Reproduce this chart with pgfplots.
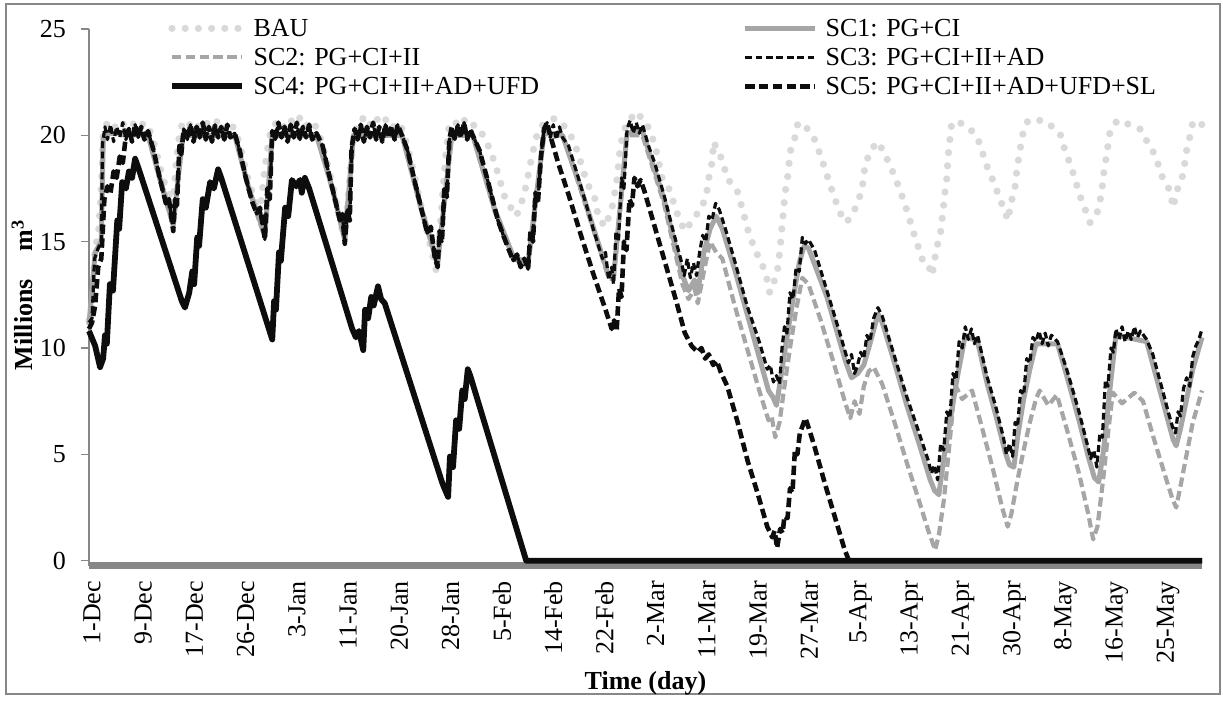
\documentclass[border=0pt]{standalone}
\usepackage{fontspec}
\setmainfont{Liberation Serif}
\usepackage{pgfplots}
\pgfplotsset{compat=1.18}
\definecolor{bau}{HTML}{D9D9D9}
\definecolor{scgray}{HTML}{A6A6A6}
\definecolor{axgray}{HTML}{878787}
\definecolor{ink}{HTML}{0D0D0D}
\newcommand{\fs}{\fontsize{13}{15.6}\selectfont}
\newcommand{\colA}[1]{\makebox[244.5pt][l]{#1}}

\begin{document}
\begin{tikzpicture}[x=1pt,y=1pt,font=\fs]
\path (0,0) rectangle (611.5,349);
\draw[axgray, line width=0.75pt] (3,2) rectangle (610,347);
\begin{axis}[
  set layers,
  at={(44.5pt,66pt)}, anchor=south west,
  scale only axis, width=556.5pt, height=268.5pt,
  xmin=0, xmax=181, ymin=-0.25, ymax=25,
  clip=false, no markers,
  axis x line*=bottom, axis y line*=left,
  x axis line style={-, axgray, line width=3.5pt},
  y axis line style={-, axgray, line width=0.75pt},
  ytick={0,5,10,15,20,25},
  xtick={0,8.33333,16.66667,25,33.33333,41.66667,50,58.33333,66.66667,75,83.33333,91.66667,100,108.33333,116.66667,125,133.33333,141.66667,150,158.33333,166.66667,175},
  xticklabels={1-Dec,9-Dec,17-Dec,26-Dec,3-Jan,11-Jan,20-Jan,28-Jan,5-Feb,14-Feb,22-Feb,2-Mar,11-Mar,19-Mar,27-Mar,5-Apr,13-Apr,21-Apr,30-Apr,8-May,16-May,25-May},
  xtick style={draw=none},
  ytick style={axgray, line width=0.75pt},
  tick align=outside, major tick length=4pt,
  /pgf/number format/assume math mode=true,
  tick label style={font=\fs},
  xticklabel style={rotate=90, anchor=east, yshift=-1.5pt},
  yticklabel style={xshift=-4pt},
  xlabel={\bfseries Time (day)},
  ylabel={\bfseries Millions\hspace{14pt}m\textsuperscript{3}},
  xlabel style={at={(axis description cs:0.5,-0.218)}, anchor=center, font=\fs},
  ylabel style={at={(axis description cs:-0.0602,0.505)}, anchor=center, font=\fs},
  legend columns=2,
  legend cell align=left,
  legend style={at={(axis description cs:0.07098,1.0242)}, anchor=north west,
    draw=none, fill=none, inner sep=0pt, row sep=2.5pt, column sep=0pt, font=\fs,
    nodes={inner sep=0pt, text height=10pt, text depth=2pt}},
  legend image code/.code={\draw[#1] (0pt,0pt) -- (35pt,0pt); \path (39pt,0pt);},
  every axis plot/.append style={line join=round},
]
% BAU
\addplot[bau, line width=3.6pt, line cap=round, dash pattern=on 0pt off 6.6pt] coordinates {
(0,11.3)(0.5,12.0)(1.0,14.8)(1.5,15.2)(2.0,17.5)(2.3,20.2)(3.0,20.6)(4.0,20.3)(5.0,20.7)(6.0,20.4)(7.0,20.6)(8.0,20.3)(9.0,20.6)(9.8,20.3)
(10.5,19.7)(11.3,18.8)(12.0,18.0)(12.7,17.4)(13.4,17.0)(13.8,17.3)(14.2,18.8)(14.7,20.0)(15.2,20.6)(16.0,20.4)(17.0,20.7)(18.0,20.3)(19.0,20.6)
(20.0,20.4)(21.0,20.7)(22.0,20.3)(23.0,20.6)(23.8,20.2)(24.5,19.6)(25.3,18.6)(26.0,17.8)(26.8,17.1)(27.5,16.6)(28.0,16.9)(28.5,18.2)(29.0,19.3)
(29.6,20.3)(30.5,20.6)(31.5,20.3)(32.5,20.8)(33.5,20.5)(34.5,20.9)(35.5,20.4)(36.5,20.6)(37.3,20.2)(38.0,19.5)(39.0,18.4)(40.0,17.2)(40.8,16.0)
(41.5,15.2)(42.0,16.6)(42.5,18.4)(43.0,19.8)(43.6,20.5)(44.5,20.8)(45.5,20.4)(46.5,20.9)(47.5,20.5)(48.5,20.8)(49.5,20.4)(50.5,20.6)(51.3,20.0)
(52.3,18.9)(53.3,17.6)(54.3,16.3)(55.3,15.1)(56.0,14.2)(56.5,13.6)(57.0,15.2)(57.5,17.2)(58.0,19.0)(58.5,20.3)(59.3,20.7)(60.3,20.4)(61.3,20.8)
(62.3,20.5)(63.3,20.4)(64.8,19.6)(66.0,18.7)(67.6,17.1)(68.8,16.5)(69.5,16.2)(70.3,16.8)(70.9,17.4)(71.4,18.1)(72.0,19.0)(72.5,19.6)(73.0,20.2)
(74.1,20.6)(75.8,20.8)(77.4,20.4)(78.5,19.9)(79.5,19.2)(80.3,18.4)(81.1,17.7)(82.3,17.0)(82.8,16.2)(83.9,15.7)(85.0,16.5)(85.5,17.3)(85.9,18.0)
(86.3,19.2)(86.7,19.9)(87.6,20.7)(88.5,20.9)(89.3,21.1)(90.1,20.6)(90.9,20.4)(92.0,19.6)(93.2,18.0)(94.5,17.4)(95.3,16.6)(96.1,16.0)(96.9,15.5)
(97.4,15.7)(98.6,16.2)(99.7,16.6)(100.5,17.4)(100.8,18.0)(101.3,18.7)(101.6,19.7)(102.3,19.2)(103.1,18.8)(103.7,18.0)(105.4,17.4)(106.2,16.6)
(107.2,15.5)(108.3,14.6)(109.4,14.0)(110.2,13.3)(110.7,12.6)(111.9,13.5)(112.4,14.7)(112.7,15.7)(113.2,17.3)(113.7,18.2)(114.0,19.2)(114.8,19.9)
(115.3,20.6)(116.9,20.3)(118.0,19.8)(118.9,19.1)(119.7,18.4)(120.5,17.7)(121.3,17.0)(122.4,16.2)(123.2,15.9)(124.5,16.5)(125.7,17.4)(126.2,18.6)
(127.0,19.2)(128.1,19.7)(129.4,19.2)(129.9,18.8)(131.0,18.1)(131.9,17.4)(132.4,17.0)(133.2,16.3)(134.0,15.5)(134.8,14.8)(135.6,14.1)(136.4,14.0)
(137.1,13.4)(137.9,14.8)(138.4,15.2)(138.9,16.5)(139.2,17.3)(139.5,18.0)(139.7,19.0)(140.3,20.6)(141.6,20.6)(143.3,20.3)(144.6,19.8)(146.2,18.4)
(147.3,17.7)(148.1,17.0)(148.9,16.5)(149.4,16.0)(150.1,17.0)(150.6,17.6)(150.9,18.4)(151.4,19.3)(151.9,20.1)(152.7,20.7)(155.1,20.7)(156.7,20.4)
(157.9,20.1)(158.7,19.3)(159.5,18.7)(160.3,18.0)(161.1,17.2)(161.9,16.6)(162.8,15.9)(163.9,16.3)(164.7,17.3)(164.9,18.0)(165.5,19.1)(166.0,20.1)
(167.2,20.7)(169.3,20.5)(170.9,20.3)(171.7,19.9)(172.5,19.5)(173.3,19.1)(173.8,18.7)(174.6,18.0)(175.8,17.4)(176.3,16.6)(176.9,17.4)(177.7,17.9)
(178.2,18.7)(178.5,19.3)(179.0,19.9)(179.5,20.6)(180.2,20.7)(181.0,20.5)
};
\addlegendentry{\colA{BAU}}
% SC1
\addplot[scgray, line width=2.5pt] coordinates {
(0,11.1)(1.0,14.5)(2.0,15.0)(2.3,19.8)(3.0,20.1)(6.0,20.1)(9.6,20.0)(11.5,18.0)(13.7,15.8)(14.5,18.0)(15.3,20.0)(23.7,20.0)(26.0,17.5)(28.6,15.3)
(29.8,20.0)(37.0,20.0)(39.5,17.6)(41.6,15.1)(43.0,20.0)(50.9,20.0)(54.0,16.6)(56.7,14.0)(59.0,20.0)(62.4,20.0)(66.0,16.5)(69.0,14.3)(71.4,14.0)
(74.0,20.1)(77.0,20.0)(80.0,17.5)(84.5,13.4)(85.3,13.3)(87.5,20.1)(90.0,20.2)(93.5,17.0)(96.5,13.4)(97.5,12.7)(98.5,13.2)(99.0,12.6)(100.0,14.5)
(101.0,15.6)(102.0,16.2)(103.0,15.6)(105.0,13.7)(108.0,10.6)(110.5,8.0)(111.2,7.7)(111.8,7.3)(112.5,8.6)(113.5,10.5)(114.5,12.3)(115.5,14.0)
(116.3,14.8)(117.0,14.7)(120.0,12.4)(123.0,9.4)(124.0,8.6)(125.0,8.8)(126.0,9.2)(127.0,10.2)(128.3,11.6)(129.0,11.2)(131.0,9.3)(133.0,7.3)
(135.0,5.5)(136.8,3.8)(137.5,3.3)(138.2,3.1)(139.0,4.8)(140.0,6.5)(141.0,8.3)(142.5,10.6)(144.5,10.3)(146.0,8.4)(147.5,6.8)(149.0,5.1)(149.7,4.5)
(150.4,4.4)(151.0,5.8)(152.0,7.6)(153.0,9.0)(154.0,10.2)(157.5,10.2)(159.0,8.7)(161.0,6.6)(162.5,4.9)(163.5,3.9)(164.2,3.7)(165.0,5.2)(166.0,8.0)
(167.0,10.6)(172.0,10.3)(173.5,8.7)(175.0,7.1)(176.3,5.7)(176.8,5.4)(177.5,6.2)(178.5,7.6)(179.5,9.0)(181.0,10.5)
};
\addlegendentry{SC1: PG+CI}
% SC2
\addplot[scgray, line width=2.1pt, dash pattern=on 4.7pt off 2.2pt] coordinates {
(0,11.1)(1.0,14.5)(2.0,15.0)(2.3,19.8)(3.0,20.1)(6.0,20.0)(9.6,20.0)(11.5,17.9)(13.7,15.7)(14.5,17.9)(15.3,20.0)(23.7,20.0)(26.0,17.4)(28.6,15.2)
(29.8,20.0)(37.0,20.0)(39.5,17.5)(41.6,15.0)(43.0,20.0)(50.9,20.0)(54.0,16.5)(56.7,13.9)(59.0,20.0)(62.4,20.0)(66.0,16.4)(69.0,14.2)(71.4,13.9)
(74.0,20.0)(77.0,20.0)(80.0,17.4)(84.5,13.3)(85.3,13.2)(87.5,20.0)(90.0,20.0)(93.5,16.8)(96.5,13.0)(97.5,12.3)(98.5,12.8)(99.0,12.1)(100.0,13.6)
(101.0,15.0)(102.0,14.5)(103.0,14.2)(105.0,12.0)(107.0,10.0)(109.0,8.0)(110.5,6.6)(111.0,6.8)(111.6,5.8)(112.3,6.5)(113.0,8.0)(114.0,10.0)
(115.0,11.8)(116.0,13.3)(117.0,13.0)(119.0,11.3)(121.0,9.4)(123.0,7.4)(123.8,6.7)(124.5,7.5)(125.3,6.9)(126.0,8.2)(126.8,8.9)(127.6,9.1)
(129.0,8.3)(131.0,6.5)(133.0,4.6)(135.0,2.8)(136.5,1.4)(137.0,1.0)(137.6,0.5)(138.2,1.2)(139.0,2.8)(139.7,4.8)(140.3,6.6)(140.8,8.3)(142.0,7.6)
(143.6,8.0)(145.0,6.5)(147.0,4.3)(148.5,2.5)(149.4,1.6)(150.0,2.2)(151.0,3.8)(152.0,5.2)(153.0,6.5)(154.0,7.6)(154.6,8.0)(156.0,7.3)(157.4,7.8)
(159.0,6.2)(161.0,4.1)(162.5,2.2)(163.3,1.0)(164.0,1.6)(165.0,4.0)(165.8,6.2)(166.5,7.9)(168.0,7.4)(170.0,7.9)(171.4,7.5)(173.0,5.9)(175.0,4.0)
(176.2,2.9)(176.8,2.5)(177.5,3.5)(178.5,5.0)(179.5,6.5)(180.5,7.5)(181.0,8.0)
};
\addlegendentry{\colA{SC2: PG+CI+II}}
% SC3
\addplot[ink, line width=1.6pt, dash pattern=on 3.4pt off 1.8pt] coordinates {
(0,11.2)(0.5,11.4)(0.9,14.2)(1.5,14.7)(2.0,15.0)(2.2,19.6)(2.6,20.4)(3.0,19.8)(3.5,20.5)(4.0,19.7)(4.5,20.4)(5.0,19.9)(5.5,20.6)(6.0,19.8)
(6.5,20.3)(7.0,19.7)(7.5,20.5)(8.0,19.9)(8.5,20.4)(9.0,19.8)(9.6,20.2)(10.5,19.3)(11.5,18.0)(12.5,16.8)(13.0,17.0)(13.7,15.5)(14.0,17.0)
(14.3,16.7)(14.7,19.5)(15.0,19.1)(15.4,20.3)(16.0,19.8)(16.5,20.5)(17.0,19.7)(17.5,20.4)(18.0,19.9)(18.5,20.6)(19.0,19.8)(19.5,20.4)(20.0,19.7)
(20.5,20.5)(21.0,19.9)(21.5,20.4)(22.0,19.8)(22.5,20.5)(23.0,19.9)(23.7,20.1)(24.5,19.3)(25.5,18.0)(26.5,16.9)(27.3,16.3)(27.8,16.6)(28.6,15.1)
(29.0,17.5)(29.4,17.0)(29.8,20.2)(30.3,19.8)(30.8,20.6)(31.3,19.9)(31.8,20.4)(32.3,19.7)(32.8,20.5)(33.3,19.9)(33.8,20.6)(34.3,19.8)(34.8,20.4)
(35.3,19.9)(35.8,20.5)(36.3,19.8)(37.0,20.1)(38.0,19.5)(39.0,18.2)(40.0,17.0)(40.8,16.0)(41.2,16.3)(41.6,14.9)(42.0,16.5)(42.4,16.0)(42.7,19.4)
(43.2,20.3)(43.7,19.8)(44.2,20.5)(44.7,19.7)(45.2,20.4)(45.7,19.9)(46.2,20.6)(46.7,19.8)(47.2,20.4)(47.7,19.7)(48.2,20.5)(48.7,19.9)(49.2,20.4)
(49.7,19.8)(50.2,20.5)(50.9,20.0)(51.8,19.3)(53.0,17.8)(54.0,16.6)(55.0,15.4)(55.6,15.7)(56.2,14.3)(56.7,13.8)(57.0,15.5)(57.4,15.0)(57.8,17.6)
(58.2,17.1)(58.6,19.8)(59.0,20.4)(59.5,19.8)(60.0,20.5)(60.5,19.9)(61.0,20.6)(61.5,19.8)(62.0,20.3)(62.4,20.0)(63.5,19.3)(65.0,17.7)(66.5,16.0)
(67.5,15.2)(68.3,14.6)(69.0,14.1)(69.6,14.4)(70.2,13.8)(70.8,14.2)(71.4,13.7)(71.8,15.5)(72.2,15.0)(72.6,17.3)(73.0,16.8)(73.5,19.0)(74.0,20.3)
(74.5,20.6)(75.0,19.9)(75.5,20.5)(76.0,19.8)(76.5,20.4)(77.0,19.9)(78.0,19.5)(80.0,17.6)(82.0,15.6)(83.5,14.2)(84.0,14.5)(84.5,13.2)(85.0,13.8)
(85.3,13.0)(85.7,15.5)(86.1,15.0)(86.6,18.0)(87.0,17.5)(87.5,20.3)(88.0,20.7)(88.5,20.1)(89.0,20.6)(89.5,20.1)(90.0,20.5)(91.0,19.5)(92.0,18.7)
(93.5,17.2)(95.0,15.5)(96.3,14.1)(96.8,13.4)(97.3,14.2)(97.8,13.3)(98.3,14.0)(98.8,13.4)(99.3,14.5)(99.8,15.3)(100.3,15.0)(100.8,16.2)(101.3,16.0)
(101.9,16.8)(102.5,16.5)(103.5,15.6)(105.0,14.1)(107.0,12.0)(109.0,10.3)(110.3,9.0)(110.8,9.2)(111.3,8.4)(111.8,8.7)(112.3,8.3)(112.7,10.0)
(113.1,11.0)(113.5,10.7)(114.0,12.6)(114.5,12.3)(115.0,13.8)(115.5,13.6)(116.0,15.2)(116.5,14.9)(117.0,15.1)(118.0,14.6)(120.0,12.7)(122.0,10.8)
(123.0,9.8)(123.5,9.3)(124.0,9.7)(124.5,8.8)(125.0,9.2)(125.5,9.8)(126.0,9.5)(126.5,10.6)(127.0,10.3)(127.6,11.4)(128.3,11.9)(129.0,11.5)
(131.0,9.6)(133.0,7.7)(135.0,6.0)(136.5,4.7)(137.0,4.1)(137.5,4.5)(138.0,3.8)(138.5,5.5)(139.0,5.2)(139.5,7.0)(140.0,6.7)(140.5,8.8)(141.0,8.5)
(141.5,10.3)(142.0,10.0)(142.5,11.0)(143.0,10.4)(143.5,10.9)(144.0,10.2)(144.5,10.6)(146.0,8.7)(147.5,7.2)(148.7,5.8)(149.2,5.0)(149.7,5.5)
(150.2,4.9)(150.6,6.5)(151.0,6.3)(151.5,8.0)(152.0,7.8)(152.5,9.5)(153.0,9.3)(153.5,10.5)(154.0,10.3)(154.5,10.8)(155.0,10.2)(155.5,10.7)
(156.0,10.1)(156.5,10.6)(157.5,10.3)(159.0,9.0)(161.0,7.0)(162.4,5.4)(162.9,4.8)(163.4,5.2)(163.9,4.4)(164.4,6.0)(164.8,5.8)(165.3,8.5)(165.7,8.2)
(166.2,10.0)(166.6,9.8)(167.0,10.9)(167.5,10.4)(168.0,11.0)(168.5,10.3)(169.0,10.8)(169.5,10.4)(170.0,11.0)(170.5,10.5)(171.0,10.8)(172.0,10.4)
(173.0,9.7)(174.5,8.1)(175.5,7.0)(176.2,6.3)(176.7,6.0)(177.1,7.0)(177.5,6.8)(178.0,8.1)(178.5,8.6)(179.0,8.2)(179.5,9.6)(180.0,10.1)(180.5,10.4)
(181.0,10.9)
};
\addlegendentry{SC3: PG+CI+II+AD}
% SC4
\addplot[ink, line width=2.9pt] coordinates {
(0,10.8)(1.0,10.1)(1.8,9.1)(2.3,9.5)(2.6,10.6)(2.9,10.2)(3.4,13.0)(3.9,12.7)(4.6,16.0)(4.9,15.6)(5.4,17.8)(6.0,17.5)(6.5,18.3)(7.0,18.0)
(7.5,18.9)(8.0,18.5)(15.1,12.2)(15.6,11.9)(16.3,12.6)(16.8,13.6)(17.1,13.0)(17.6,15.2)(17.9,14.8)(18.5,17.0)(19.0,16.6)(19.7,17.8)(20.3,17.5)
(21.0,18.4)(21.5,18.0)(29.8,10.4)(30.1,12.2)(30.4,11.8)(30.9,14.5)(31.2,14.1)(31.9,16.6)(32.4,16.2)(33.0,17.9)(33.7,17.6)(34.3,17.9)(34.6,17.3)
(35.1,18.0)(35.8,17.5)(42.8,10.9)(43.4,10.5)(43.9,10.8)(44.6,9.9)(44.9,11.8)(45.4,11.4)(45.9,12.4)(46.3,12.0)(47.0,12.9)(47.5,12.3)(48.1,12.1)
(57.4,3.7)(57.8,3.4)(58.4,3.0)(58.7,4.9)(59.2,4.4)(59.7,6.6)(60.2,6.2)(60.7,8.0)(61.1,7.6)(61.6,9.0)(62.0,8.7)(71.1,0)(181,0)
};
\addlegendentry{\colA{SC4: PG+CI+II+AD+UFD}}
% SC5
\addplot[ink, line width=2.3pt, dash pattern=on 4.7pt off 2.2pt] coordinates {
(0,10.9)(0.5,11.2)(1.0,12.0)(1.5,13.8)(2.0,14.2)(2.5,17.0)(3.0,17.6)(3.5,17.3)(4.0,18.3)(4.5,18.0)(5.0,19.0)(5.5,18.7)(6.0,20.0)
(6.5,20.3)(7.0,19.7)(7.5,20.5)(8.0,19.9)(8.5,20.4)(9.0,19.8)(9.6,20.2)(10.5,19.3)(11.5,18.0)(12.5,16.8)(13.0,17.0)(13.7,15.5)(14.0,17.0)
(14.3,16.7)(14.7,19.5)(15.0,19.1)(15.4,20.3)(16.0,19.8)(16.5,20.5)(17.0,19.7)(17.5,20.4)(18.0,19.9)(18.5,20.6)(19.0,19.8)(19.5,20.4)(20.0,19.7)
(20.5,20.5)(21.0,19.9)(21.5,20.4)(22.0,19.8)(22.5,20.5)(23.0,19.9)(23.7,20.1)(24.5,19.3)(25.5,18.0)(26.5,16.9)(27.3,16.3)(27.8,16.6)(28.6,15.1)
(29.0,17.5)(29.4,17.0)(29.8,20.2)(30.3,19.8)(30.8,20.6)(31.3,19.9)(31.8,20.4)(32.3,19.7)(32.8,20.5)(33.3,19.9)(33.8,20.6)(34.3,19.8)(34.8,20.4)
(35.3,19.9)(35.8,20.5)(36.3,19.8)(37.0,20.1)(38.0,19.5)(39.0,18.2)(40.0,17.0)(40.8,16.0)(41.2,16.3)(41.6,14.9)(42.0,16.5)(42.4,16.0)(42.7,19.4)
(43.2,20.3)(43.7,19.8)(44.2,20.5)(44.7,19.7)(45.2,20.4)(45.7,19.9)(46.2,20.6)(46.7,19.8)(47.2,20.4)(47.7,19.7)(48.2,20.5)(48.7,19.9)(49.2,20.4)
(49.7,19.8)(50.2,20.5)(50.9,20.0)(51.8,19.3)(53.0,17.8)(54.0,16.6)(55.0,15.4)(55.6,15.7)(56.2,14.3)(56.7,13.8)(57.0,15.5)(57.4,15.0)(57.8,17.6)
(58.2,17.1)(58.6,19.8)(59.0,20.4)(59.5,19.8)(60.0,20.5)(60.5,19.9)(61.0,20.6)(61.5,19.8)(62.0,20.3)(62.4,20.0)(63.5,19.3)(65.0,17.7)(66.5,16.0)
(67.5,15.2)(68.3,14.6)(69.0,14.1)(69.6,14.4)(70.2,13.8)(70.8,14.2)(71.4,13.7)(71.8,15.5)(72.2,15.0)(72.6,17.3)(73.0,16.8)(73.5,19.0)(74.0,20.3)
(74.5,20.6)(75.0,20.0)(75.7,19.3)(76.3,18.7)(78.0,17.2)(80.0,15.3)(82.0,13.5)(84.0,11.8)(85.0,10.9)(85.4,11.3)(85.8,10.8)(86.2,12.8)(86.6,12.4)
(87.0,15.0)(87.4,14.6)(87.9,17.0)(88.3,16.7)(88.7,18.0)(89.2,17.6)(89.7,17.9)(90.3,17.4)(92.1,15.6)(93.3,14.4)(94.5,13.2)(95.5,12.2)(96.9,10.7)
(98.0,10.1)(99.0,9.8)(99.6,10.0)(100.2,9.5)(100.8,9.7)(101.5,9.2)(102.1,9.4)(102.7,8.9)(103.8,8.2)(105.4,6.6)(107.1,4.7)(108.7,3.2)(110.3,1.6)
(111.1,1.1)(111.5,1.4)(111.9,0.6)(112.4,1.5)(112.8,1.3)(113.1,2.1)(113.6,2.0)(114.0,3.4)(114.4,3.2)(114.8,5.2)(115.2,5.0)(115.6,6.0)(116.0,6.3)
(116.5,6.7)(117.2,6.1)(118.0,5.35)(119.7,3.6)(121.3,2.05)(122.9,0.5)(123.6,0)(181,0)
};
\addlegendentry{SC5: PG+CI+II+AD+UFD+SL}
\end{axis}
\end{tikzpicture}
\end{document}
